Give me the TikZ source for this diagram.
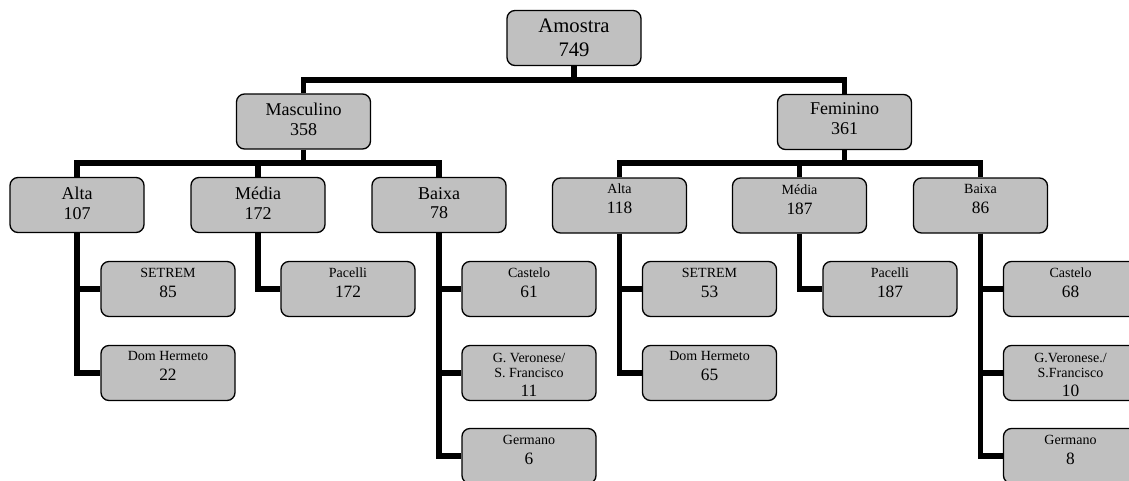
\documentclass[tikz,border=0pt]{standalone}
\usepackage{fontspec}
\setmainfont{Liberation Serif}
\usetikzlibrary{backgrounds}
\definecolor{boxgray}{HTML}{C0C0C0}
\newcommand{\numf}{\fontsize{13}{14}\selectfont}
\tikzset{
  box/.style={draw=black, line width=1pt, fill=boxgray, rounded corners=6pt,
    minimum width=100.5pt, minimum height=41.25pt, inner sep=0pt},
  conn/.style={line width=4.1pt, line join=miter},
  txt/.style={anchor=north, align=center, inner sep=0pt},
  big/.style={txt, font=\fontsize{15.5}{18}\selectfont},
  mid/.style={txt, font=\fontsize{13.5}{14.5}\selectfont},
  sml/.style={txt, font=\fontsize{10.5}{11.25}\selectfont},
}
\begin{document}
\begin{tikzpicture}[x=0.75pt, y=-0.75pt]
\useasboundingbox (0,0) rectangle (1129,480);
\clip (0,0) rectangle (1129,480);

% boxes
\node[box] (amostra) at (574,38) {};
\node[box] (masc) at (303.5,121.5) {};
\node[box] (fem) at (844.5,122) {};
\node[box] (malta) at (77,205) {};
\node[box] (mmedia) at (258,205) {};
\node[box] (mbaixa) at (439,205) {};
\node[box] (falta) at (619.5,205.5) {};
\node[box] (fmedia) at (799.5,205.5) {};
\node[box] (fbaixa) at (980.5,205.5) {};
\node[box] (msetrem) at (168,289) {};
\node[box] (mdom) at (168,373) {};
\node[box] (mpacelli) at (348,289) {};
\node[box] (mcastelo) at (529,289) {};
\node[box] (mgv) at (529,373) {};
\node[box] (mgerm) at (529,456) {};
\node[box] (fsetrem) at (709.5,289) {};
\node[box] (fdom) at (709.5,373) {};
\node[box] (fpacelli) at (890,289) {};
\node[box] (fcastelo) at (1070.5,289) {};
\node[box] (fgv) at (1070.5,373) {};
\node[box] (fgerm) at (1070.5,456) {};

% texts
\node[big] (tamostra) at ([yshift=-6.5pt]amostra.north) {Amostra\\749};
\node[mid] (tmasc) at ([yshift=-7.25pt]masc.north) {Masculino\\358};
\node[mid] (tfem) at ([yshift=-6.5pt]fem.north) {Feminino\\361};
\node[mid] (tmalta) at ([yshift=-7.75pt]malta.north) {Alta\\107};
\node[mid] (tmmedia) at ([yshift=-7.75pt]mmedia.north) {Média\\172};
\node[mid] (tmbaixa) at ([yshift=-7.75pt]mbaixa.north) {Baixa\\78};
\node[sml] (tfalta) at ([yshift=-5pt]falta.north) {Alta\\[3.75pt]{\numf 118}};
\node[sml] (tfmedia) at ([yshift=-5pt]fmedia.north) {Média\\[3.75pt]{\numf 187}};
\node[sml] (tfbaixa) at ([yshift=-5pt]fbaixa.north) {Baixa\\[3.75pt]{\numf 86}};
\node[sml] (tmsetrem) at ([yshift=-5pt]msetrem.north) {SETREM\\[3.75pt]{\numf 85}};
\node[sml] (tmdom) at ([yshift=-5pt]mdom.north) {Dom Hermeto\\[3.75pt]{\numf 22}};
\node[sml] (tmpacelli) at ([yshift=-5pt]mpacelli.north) {Pacelli\\[3.75pt]{\numf 172}};
\node[sml] (tmcastelo) at ([yshift=-5pt]mcastelo.north) {Castelo\\[3.75pt]{\numf 61}};
\node[sml] (tmgv) at ([yshift=-6pt]mgv.north) {G. Veronese/\\S. Francisco\\[3pt]{\numf 11}};
\node[sml] (tmgerm) at ([yshift=-5pt]mgerm.north) {Germano\\[3.75pt]{\numf 6}};
\node[sml] (tfsetrem) at ([yshift=-5pt]fsetrem.north) {SETREM\\[3.75pt]{\numf 53}};
\node[sml] (tfdom) at ([yshift=-5pt]fdom.north) {Dom Hermeto\\[3.75pt]{\numf 65}};
\node[sml] (tfpacelli) at ([yshift=-5pt]fpacelli.north) {Pacelli\\[3.75pt]{\numf 187}};
\node[sml] (tfcastelo) at ([yshift=-5pt]fcastelo.north) {Castelo\\[3.75pt]{\numf 68}};
\node[sml] (tfgv) at ([yshift=-6pt]fgv.north) {G.Veronese./\\S.Francisco\\[3pt]{\numf 10}};
\node[sml] (tfgerm) at ([yshift=-5pt]fgerm.north) {Germano\\[3.75pt]{\numf 8}};

\coordinate (bar0) at (574,80);
\coordinate (barm) at (303.5,163);
\coordinate (barf) at (844.5,163);

\begin{scope}[on background layer]
\fill[white] (0,0) rectangle (1129,480);
\draw[conn] (amostra.south) -- (bar0);
\draw[conn] (masc.north) |- (bar0) -| (fem.north);
\draw[conn] (masc.south) -- (barm);
\draw[conn] (malta.north) |- (barm) -| (mbaixa.north);
\draw[conn] (mmedia.north) -- (mmedia.north |- barm);
\draw[conn] (fem.south) -- (barf);
\draw[conn] (falta.north) |- (barf) -| (fbaixa.north);
\draw[conn] (fmedia.north) -- (fmedia.north |- barf);
\draw[conn] (malta.south) |- (msetrem.west);
\draw[conn] (malta.south) |- (mdom.west);
\draw[conn] (mmedia.south) |- (mpacelli.west);
\draw[conn] (mbaixa.south) |- (mcastelo.west);
\draw[conn] (mbaixa.south) |- (mgv.west);
\draw[conn] (mbaixa.south) |- (mgerm.west);
\draw[conn] (falta.south) |- (fsetrem.west);
\draw[conn] (falta.south) |- (fdom.west);
\draw[conn] (fmedia.south) |- (fpacelli.west);
\draw[conn] (fbaixa.south) |- (fcastelo.west);
\draw[conn] (fbaixa.south) |- (fgv.west);
\draw[conn] (fbaixa.south) |- (fgerm.west);
\end{scope}
\end{tikzpicture}
\end{document}
